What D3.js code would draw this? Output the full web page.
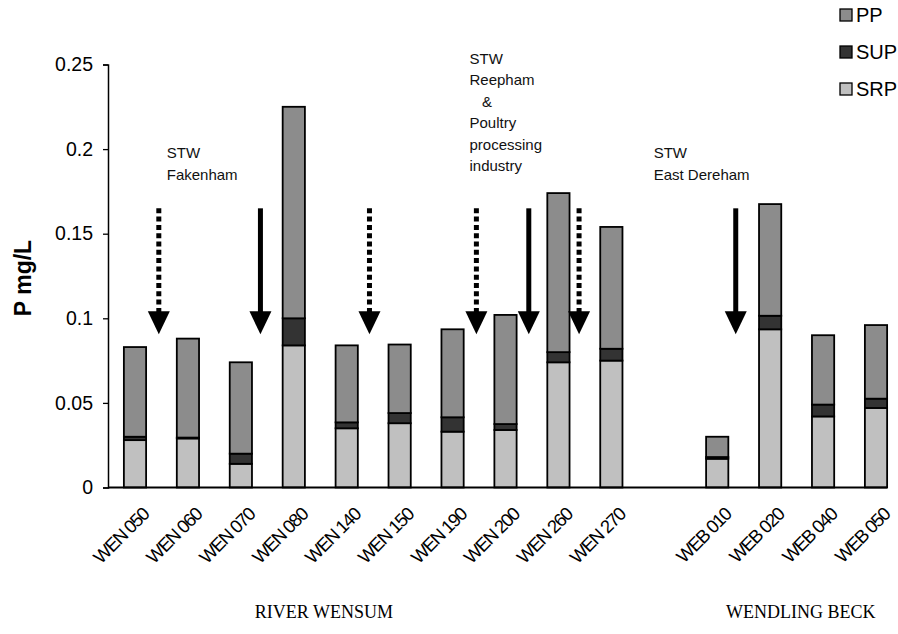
<!DOCTYPE html>
<html>
<head>
<meta charset="utf-8">
<script src="https://cdn.jsdelivr.net/npm/d3@7"></script>
<style>
  html, body { margin: 0; padding: 0; background: #fff; }
  svg { display: block; }
</style>
</head>
<body>
<svg id="chart" width="898" height="634"></svg>
<script>
// Sampling sites along the two rivers
const wensumSites   = ["WEN 050", "WEN 060", "WEN 070", "WEN 080", "WEN 140", "WEN 150", "WEN 190", "WEN 200", "WEN 260", "WEN 270"];
const wendlingSites = ["WEB 010", "WEB 020", "WEB 040", "WEB 050"];
const sites = [...wensumSites, ...wendlingSites];

// Phosphorus fractions, mg/L (stacked bottom to top: SRP, SUP, PP)
const srp = [0.028, 0.029, 0.014, 0.084, 0.035, 0.038, 0.033, 0.034, 0.074, 0.075, 0.017, 0.0935, 0.042, 0.047];
const sup = [0.002, 0.0005, 0.006, 0.016, 0.0035, 0.006, 0.0085, 0.0035, 0.006, 0.007, 0.001, 0.008, 0.007, 0.0055];
const pp  = [0.053, 0.0585, 0.054, 0.125, 0.0455, 0.0405, 0.052, 0.0645, 0.094, 0.072, 0.012, 0.066, 0.041, 0.0435];

const seriesKeys = ["SRP", "SUP", "PP"];
const legendOrder = ["PP", "SUP", "SRP"];
const yTicks = [0, 0.05, 0.1, 0.15, 0.2, 0.25];
const yTickLabels = ["0", "0.05", "0.1", "0.15", "0.2", "0.25"];

// River names, centred at a position measured in site slots
const groups = [
  { name: "RIVER WENSUM",  pos: 3.57 },
  { name: "WENDLING BECK", pos: 12.58 }
];

// Point sources; pos is measured in site slots (the gap between rivers counts as one slot)
const sources = [
  { pos: 0.45,  dotted: true  },
  { pos: 2.37,  dotted: false },
  { pos: 4.43,  dotted: true  },
  { pos: 6.45,  dotted: true  },
  { pos: 7.44,  dotted: false },
  { pos: 8.39,  dotted: true  },
  { pos: 11.35, dotted: false }
];
const arrowTop = 0.165, arrowTip = 0.0905;

// Source notes: left edge in site slots, first baseline in mg/L
const notes = [
  { pos: 0.6,  top: 0.1945, lines: ["STW", "Fakenham"] },
  { pos: 6.32, top: 0.2505, lines: ["STW", "Reepham", "   &", "Poultry", "processing", "industry"] },
  { pos: 9.8,  top: 0.1945, lines: ["STW", "East Dereham"] }
];

const colors = { PP: "#8c8c8c", SUP: "#333333", SRP: "#c0c0c0" };

// --- layout ---
const svg = d3.select("#chart");
const plotLeft = 108, plotTop = 64.5, plotBottom = 487.5;

const slots = [...wensumSites, "__gap__", ...wendlingSites];
const x = d3.scaleBand().domain(slots).range([plotLeft, 903]).paddingInner(0.58).paddingOuter(0.3);
const slotX = d3.scaleLinear()
  .domain([0, 1])
  .range([x(slots[0]) + x.bandwidth() / 2, x(slots[1]) + x.bandwidth() / 2]);
const y = d3.scaleLinear().domain([0, 0.25]).range([plotBottom, plotTop]);

// --- bars ---
const table = sites.map((s, i) => ({ site: s, SRP: srp[i], SUP: sup[i], PP: pp[i] }));
const stacked = d3.stack().keys(seriesKeys)(table);

svg.append("g").selectAll("g")
  .data(stacked)
  .join("g")
  .attr("fill", d => colors[d.key])
  .selectAll("rect")
  .data(d => d)
  .join("rect")
  .attr("x", d => x(d.data.site))
  .attr("width", x.bandwidth())
  .attr("y", d => y(d[1]))
  .attr("height", d => y(d[0]) - y(d[1]))
  .attr("stroke", "#000")
  .attr("stroke-width", 1.8);

// --- y axis ---
const yAxis = d3.axisLeft(y).tickValues(yTicks).tickFormat((d, i) => yTickLabels[i]).tickSize(5).tickPadding(10);
const yG = svg.append("g").attr("transform", `translate(${plotLeft},0)`).call(yAxis);
yG.select(".domain").attr("stroke", "#000").attr("stroke-width", 1.5);
yG.selectAll(".tick line").attr("stroke", "#000").attr("stroke-width", 1.3);
yG.selectAll(".tick text")
  .attr("font-family", "Liberation Sans, Arial, sans-serif")
  .attr("font-size", 19.5).attr("fill", "#000");

// --- x baseline and site labels ---
const lastSite = sites[sites.length - 1];
svg.append("line")
  .attr("x1", plotLeft).attr("x2", x(lastSite) + x.bandwidth())
  .attr("y1", y(0)).attr("y2", y(0))
  .attr("stroke", "#000").attr("stroke-width", 2);

svg.append("g").selectAll("text")
  .data(sites)
  .join("text")
  .attr("transform", d => `translate(${x(d) + x.bandwidth() / 2 + 6},${y(0) + 19}) rotate(-45)`)
  .attr("text-anchor", "end")
  .attr("dy", "0.7em")
  .attr("font-family", "Liberation Sans, Arial, sans-serif")
  .attr("font-size", 18.5)
  .attr("letter-spacing", "-1.4px")
  .text(d => d);

// --- group labels ---
svg.append("g").selectAll("text")
  .data(groups)
  .join("text")
  .attr("x", g => slotX(g.pos))
  .attr("y", 618)
  .attr("text-anchor", "middle")
  .attr("font-family", "Liberation Serif, Times New Roman, serif")
  .attr("font-size", 18)
  .text(g => g.name);

// --- y title ---
svg.append("text")
  .attr("transform", `translate(31,${(plotTop + plotBottom) / 2 + 2}) rotate(-90)`)
  .attr("text-anchor", "middle")
  .attr("font-family", "Liberation Sans, Arial, sans-serif")
  .attr("font-weight", "bold")
  .attr("font-size", 23)
  .text("P mg/L");

// --- source arrows ---
const headH = 23, headW = 22;
const arrows = svg.append("g").selectAll("g").data(sources).join("g");
arrows.append("line")
  .attr("x1", d => slotX(d.pos)).attr("x2", d => slotX(d.pos))
  .attr("y1", y(arrowTop)).attr("y2", y(arrowTip) - headH + 1)
  .attr("stroke", "#000").attr("stroke-width", 5)
  .attr("stroke-dasharray", d => d.dotted ? "5,3.3" : null);
arrows.append("path")
  .attr("d", d => {
    const cx = slotX(d.pos), tip = y(arrowTip);
    return `M${cx - headW / 2},${tip - headH}L${cx + headW / 2},${tip - headH}L${cx},${tip}Z`;
  })
  .attr("fill", "#000");

// --- source notes ---
svg.append("g").selectAll("text")
  .data(notes)
  .join("text")
  .attr("font-family", "Liberation Sans, Arial, sans-serif")
  .attr("font-size", 15)
  .attr("fill", "#111")
  .each(function (d) {
    const t = d3.select(this);
    d.lines.forEach((line, k) => {
      t.append("tspan")
        .attr("x", slotX(d.pos))
        .attr("y", y(d.top) + k * 21.5)
        .attr("xml:space", "preserve")
        .text(line);
    });
  });

// --- legend ---
const legend = svg.append("g").selectAll("g")
  .data(legendOrder)
  .join("g")
  .attr("transform", (d, i) => `translate(846,${15 + i * 37})`);
legend.append("rect")
  .attr("x", -6).attr("y", -6).attr("width", 12).attr("height", 12)
  .attr("fill", d => colors[d]).attr("stroke", "#000").attr("stroke-width", 1.3);
legend.append("text")
  .attr("x", 10).attr("dy", "0.36em")
  .attr("font-family", "Liberation Sans, Arial, sans-serif")
  .attr("font-size", 20)
  .text(d => d);
</script>
</body>
</html>
